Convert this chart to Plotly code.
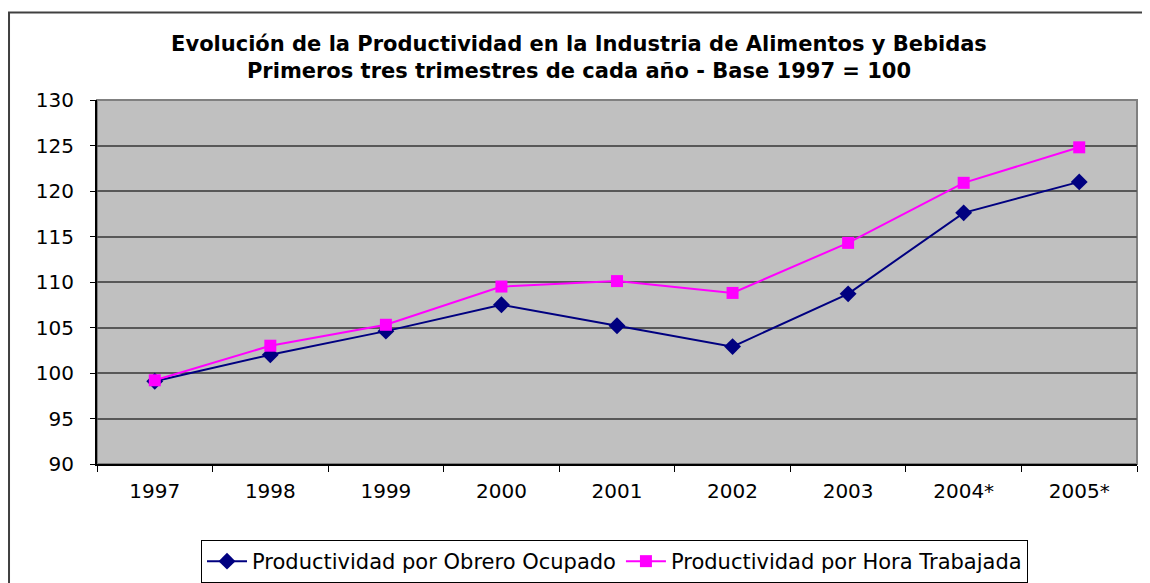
import plotly.graph_objects as go

years = ["1997", "1998", "1999", "2000", "2001", "2002", "2003", "2004*", "2005*"]
obrero = [99.1, 102.0, 104.6, 107.5, 105.2, 102.9, 108.7, 117.6, 121.0]
hora = [99.2, 103.0, 105.3, 109.5, 110.1, 108.8, 114.3, 120.9, 124.8]
y_ticks = [90, 95, 100, 105, 110, 115, 120, 125, 130]

font = "DejaVu Sans, Verdana, sans-serif"

H = 600
fig = go.Figure()
fig.add_trace(go.Scatter(
    x=years, y=obrero, mode="lines+markers", name="Productividad por Obrero Ocupado",
    line=dict(color="#000080", width=2),
    marker=dict(symbol="diamond", size=13, color="#000080"),
))
fig.add_trace(go.Scatter(
    x=years, y=hora, mode="lines+markers", name="Productividad por Hora Trabajada",
    line=dict(color="#FF00FF", width=2),
    marker=dict(symbol="square", size=12, color="#FF00FF"),
))

fig.update_layout(
    width=1142, height=H,
    margin=dict(l=89, r=13, t=92, b=H - 456),
    paper_bgcolor="white",
    plot_bgcolor="#C0C0C0",
    font=dict(family=font, size=19, color="black"),
    title=dict(
        text="<b>Evolución de la Productividad en la Industria de Alimentos y Bebidas<br>Primeros tres trimestres de cada año - Base 1997 = 100</b>",
        x=0.5, xanchor="center", xref="container",
        y=1 - 43 / H, yanchor="top", yref="container",
        font=dict(family=font, size=21, color="black"),
    ),
    xaxis=dict(
        type="category", tickson="boundaries", ticks="outside", ticklen=6,
        tickcolor="black", showline=True, linecolor="black", linewidth=2,
        showgrid=False, tickfont=dict(size=20), range=[-0.5, 8.5],
        ticklabelstandoff=8,
    ),
    yaxis=dict(
        range=[90, 130], tickvals=y_ticks, ticks="outside", ticklen=5,
        tickcolor="black", showline=True, linecolor="black", linewidth=2,
        showgrid=True, gridcolor="#585858", gridwidth=2, zeroline=False,
        tickfont=dict(size=20), ticklabelstandoff=12,
    ),
    legend=dict(
        orientation="h", x=0.4976, xanchor="center", y=-0.2088, yanchor="top",
        bordercolor="black", borderwidth=1, font=dict(size=21),
        itemwidth=40, tracegroupgap=0,
    ),
    shapes=[
        dict(type="rect", xref="paper", yref="paper", x0=0, x1=1, y0=0, y1=1,
             line=dict(color="#808080", width=2), layer="below"),
        dict(type="rect", xref="paper", yref="paper", x0=-0.0846, x1=1.0106,
             y0=-0.4, y1=1.2404, line=dict(color="#404040", width=2)),
    ],
)

fig.write_html("out.html")
